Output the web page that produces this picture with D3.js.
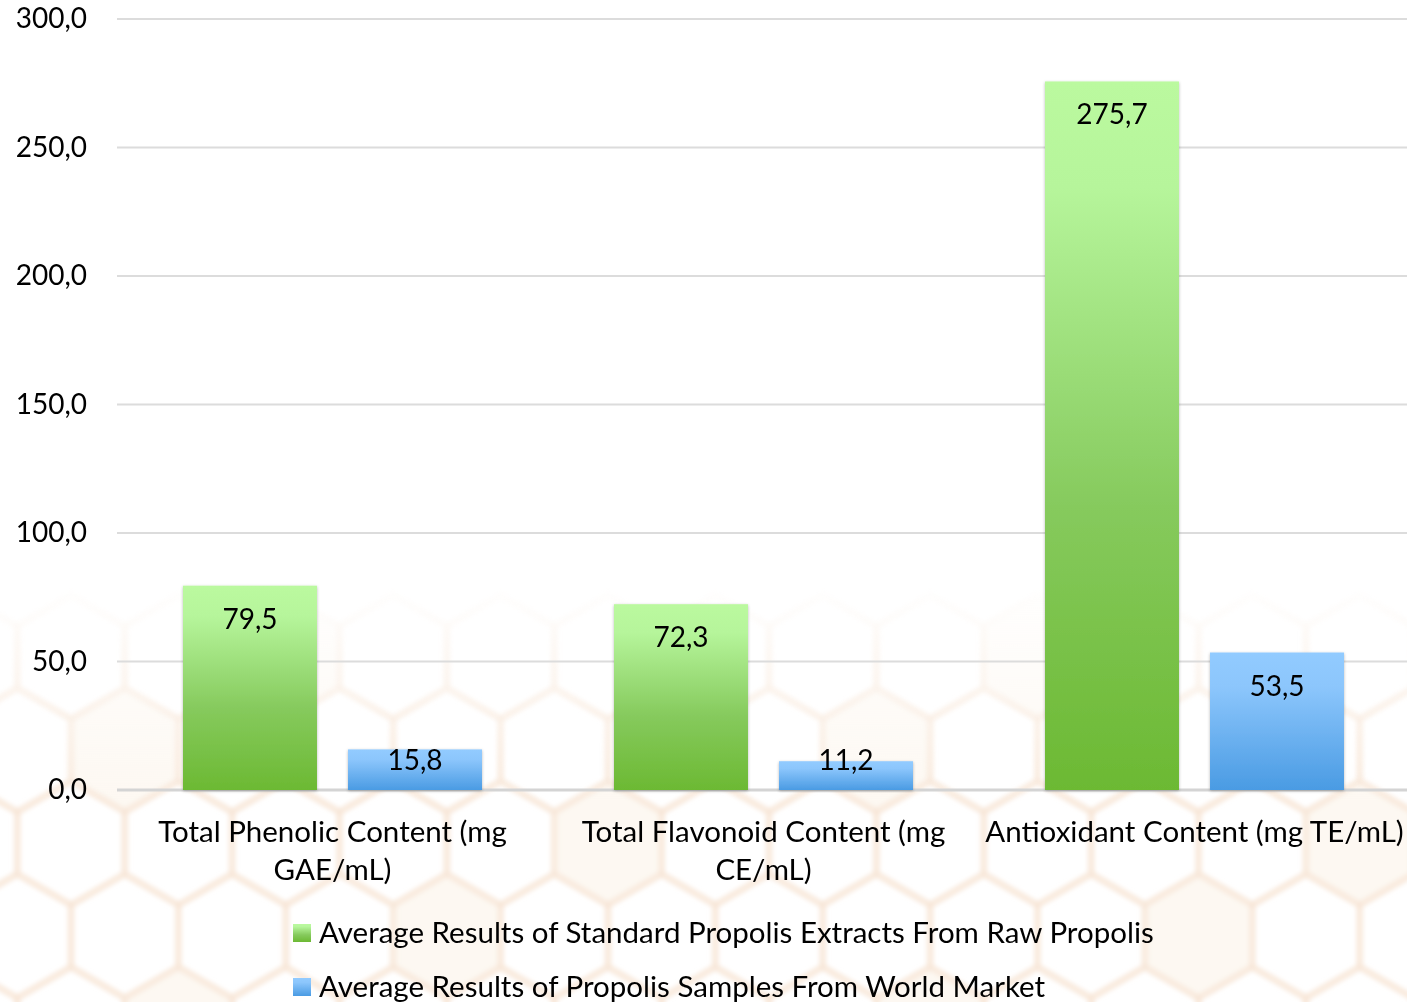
<!DOCTYPE html>
<html>
<head>
<meta charset="utf-8">
<script src="https://cdn.jsdelivr.net/npm/d3@7"></script>
<style>
  body { margin: 0; background: #fff; }
  svg { display: block; font-family: Lato, "Open Sans", sans-serif; }
</style>
</head>
<body>
<svg id="chart"></svg>
<script>
var categories = ["Total Phenolic Content (mg GAE/mL)", "Total Flavonoid Content (mg CE/mL)", "Antioxidant Content (mg TE/mL)"];
var seriesNames = ["Average Results of Standard Propolis Extracts From Raw Propolis", "Average Results of Propolis Samples From World Market"];
var rawPropolis = [79.5, 72.3, 275.7];
var worldMarket = [15.8, 11.2, 53.5];
var yTicks = [0, 50, 100, 150, 200, 250, 300];

var W = 1407, H = 1002;
var margin = { top: 19, right: 0, bottom: 212, left: 117 },
    width = 1410 - margin.left,
    height = H - margin.top - margin.bottom;

var svg = d3.select("#chart").attr("width", W).attr("height", H);
var defs = svg.append("defs");

// bar gradients
var gGreen = defs.append("linearGradient").attr("id", "gGreen").attr("x1", 0).attr("y1", 0).attr("x2", 0).attr("y2", 1);
gGreen.append("stop").attr("offset", "0%").attr("stop-color", "#bbf99f");
gGreen.append("stop").attr("offset", "15%").attr("stop-color", "#b6f59b");
gGreen.append("stop").attr("offset", "60%").attr("stop-color", "#86ca5d");
gGreen.append("stop").attr("offset", "100%").attr("stop-color", "#6cb933");
var gBlue = defs.append("linearGradient").attr("id", "gBlue").attr("x1", 0).attr("y1", 0).attr("x2", 0).attr("y2", 1);
gBlue.append("stop").attr("offset", "0%").attr("stop-color", "#92cbff");
gBlue.append("stop").attr("offset", "25%").attr("stop-color", "#8cc6fc");
gBlue.append("stop").attr("offset", "100%").attr("stop-color", "#4a9be3");

var shadow = defs.append("filter").attr("id", "shadow").attr("x", "-10%").attr("y", "-10%").attr("width", "120%").attr("height", "120%");
shadow.append("feDropShadow").attr("dx", 0).attr("dy", 1).attr("stdDeviation", 1.6)
    .attr("flood-color", "#000").attr("flood-opacity", 0.28);

// faded honeycomb backdrop
var fade = defs.append("linearGradient").attr("id", "fade").attr("x1", 0).attr("x2", 0)
    .attr("gradientUnits", "userSpaceOnUse").attr("y1", 570).attr("y2", 800);
fade.append("stop").attr("offset", "0%").attr("stop-color", "#fff").attr("stop-opacity", 0);
fade.append("stop").attr("offset", "100%").attr("stop-color", "#fff").attr("stop-opacity", 1);
defs.append("mask").attr("id", "hexMask")
    .append("rect").attr("width", W).attr("height", H).attr("fill", "url(#fade)");
var blur = defs.append("filter").attr("id", "soft");
blur.append("feGaussianBlur").attr("stdDeviation", 2);

var r = 62, hw = Math.sqrt(3) * r;
function hexPath(cx, cy) {
    var pts = d3.range(6).map(function (i) {
        var a = Math.PI / 3 * i - Math.PI / 2;
        return [cx + r * Math.cos(a), cy + r * Math.sin(a)];
    });
    return "M" + pts.join("L") + "Z";
}
var cells = [];
for (var row = 0; row < 6; row++) {
    for (var col = -1; col < 15; col++) {
        cells.push([71 + col * hw + (row % 2 ? hw / 2 : 0), 750 + (row - 1) * 1.5 * r]);
    }
}
var bg = svg.append("g").attr("mask", "url(#hexMask)").attr("filter", "url(#soft)");
bg.selectAll("path.hex").data(cells).enter().append("path")
    .attr("class", "hex")
    .attr("d", function (d) { return hexPath(d[0], d[1]); })
    .attr("fill", function (d, i) { return (i % 7 === 3) ? "#fcf1e6" : "none"; })
    .attr("stroke", "#f7e6d6")
    .attr("stroke-width", 7)
    .attr("opacity", 0.5);

var g = svg.append("g").attr("transform", "translate(" + margin.left + "," + margin.top + ")");

var y = d3.scaleLinear().domain([0, 300]).range([height, 0]);
var x0 = d3.scaleBand().domain(categories).range([0, width]).paddingInner(0).paddingOuter(0);
var x1 = d3.scaleBand().domain([0, 1]).range([66, x0.bandwidth() - 66]).paddingInner(0.188).paddingOuter(0);

var fmt = function (v) { return d3.format(".1f")(v).replace(".", ","); };

// gridlines
g.selectAll("line.grid").data(yTicks).enter().append("line")
    .attr("class", "grid")
    .attr("x1", 0).attr("x2", W - margin.left)
    .attr("y1", function (d) { return y(d); }).attr("y2", function (d) { return y(d); })
    .attr("stroke", function (d) { return d === 0 ? "#d4d4d4" : "#dcdcdc"; })
    .attr("stroke-width", function (d) { return d === 0 ? 3 : 2; });

// y axis labels
var yAxis = d3.axisLeft(y).tickValues(yTicks).tickFormat(fmt).tickSize(0).tickPadding(30);
var ya = g.append("g").call(yAxis);
ya.select(".domain").remove();
ya.selectAll("text").attr("font-size", 28).attr("fill", "#000").attr("font-family", "Lato, sans-serif").attr("dy", "0.32em");

// bars
var series = [
    { name: seriesNames[0], values: rawPropolis, fill: "url(#gGreen)" },
    { name: seriesNames[1], values: worldMarket, fill: "url(#gBlue)" }
];
series.forEach(function (s, si) {
    var sg = g.append("g");
    sg.selectAll("rect").data(s.values).enter().append("rect")
        .attr("x", function (d, i) { return x0(categories[i]) + x1(si); })
        .attr("y", function (d) { return y(d); })
        .attr("width", x1.bandwidth())
        .attr("height", function (d) { return y(0) - y(d); })
        .attr("fill", s.fill)
        .attr("filter", "url(#shadow)");
    sg.selectAll("text").data(s.values).enter().append("text")
        .attr("x", function (d, i) { return x0(categories[i]) + x1(si) + x1.bandwidth() / 2; })
        .attr("y", function (d) { return Math.min(y(d) + 43, y(0) - 20); })
        .attr("text-anchor", "middle")
        .attr("font-size", 28)
        .attr("fill", "#000")
        .text(fmt);
});

// category labels with wrapping
var xa = g.append("g").attr("transform", "translate(0," + height + ")")
    .call(d3.axisBottom(x0).tickSize(0).tickPadding(0));
xa.select(".domain").remove();
xa.selectAll("text").attr("font-size", 29.5).attr("fill", "#000").attr("font-family", "Lato, sans-serif")
    .attr("dy", null)
    .each(function (d) {
        var t = d3.select(this), words = d.split(" "), line = [], lines = [];
        t.text(null);
        var probe = t.append("tspan");
        words.forEach(function (w) {
            line.push(w);
            probe.text(line.join(" "));
            if (probe.node().getComputedTextLength() > x0.bandwidth() && line.length > 1) {
                line.pop();
                lines.push(line.join(" "));
                line = [w];
            }
        });
        lines.push(line.join(" "));
        probe.remove();
        lines.forEach(function (l, i) {
            t.append("tspan").attr("x", 0).attr("y", 52 + i * 38).text(l);
        });
    });

// legend
var legend = svg.append("g").attr("transform", "translate(293,924)");
var lg = legend.selectAll("g").data(series).enter().append("g")
    .attr("transform", function (d, i) { return "translate(0," + i * 54 + ")"; });
lg.append("rect").attr("width", 18).attr("height", 18)
    .attr("fill", function (d) { return d.fill; });
lg.append("text").attr("x", 26).attr("y", 19)
    .attr("font-size", 29.5).attr("fill", "#000")
    .text(function (d) { return d.name; });
</script>
</body>
</html>
